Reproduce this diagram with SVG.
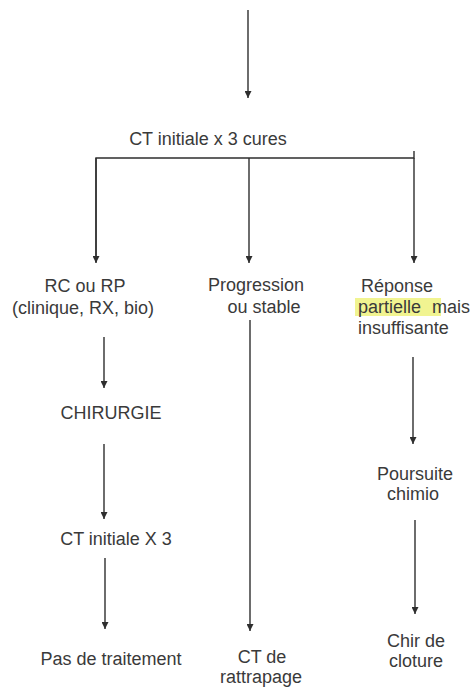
<svg xmlns="http://www.w3.org/2000/svg" width="473" height="688" viewBox="0 0 473 688">
<defs>
<marker id="ah" viewBox="0 0 10 10" refX="10" refY="5" markerWidth="7" markerHeight="7" markerUnits="userSpaceOnUse" orient="auto">
<path d="M0,0 L10,5 L0,10 z" fill="#2e2e2e"/>
</marker>
<style>
.t{font-family:"Liberation Sans",Arial,sans-serif;font-size:18px;fill:#3a3a3a;text-anchor:middle}
.l{text-anchor:start}
.c{stroke:#2e2e2e;stroke-width:1.4;fill:none}
.a{marker-end:url(#ah)}
</style>
</defs>
<rect width="473" height="688" fill="#ffffff"/>
<g id="connectors">
<line class="c a" x1="248" y1="10" x2="248" y2="98"/>
<polyline class="c" points="96,262 96,158 414,158 414,151"/>
<line class="c a" x1="96" y1="158" x2="96" y2="263"/>
<line class="c a" x1="249" y1="158" x2="249" y2="263"/>
<line class="c a" x1="414" y1="158" x2="414" y2="263"/>
<line class="c a" x1="104" y1="337" x2="104" y2="388"/>
<line class="c a" x1="104" y1="444" x2="104" y2="519"/>
<line class="c a" x1="105" y1="558" x2="105" y2="629"/>
<line class="c a" x1="250" y1="320" x2="250" y2="631"/>
<line class="c a" x1="413" y1="357" x2="413" y2="444"/>
<line class="c a" x1="415" y1="520" x2="415" y2="614"/>
</g>
<g id="n-ct-initiale"><text class="t" x="208" y="145">CT initiale x 3 cures</text></g>
<g id="n-rc"><text class="t" x="85" y="292">RC ou RP</text><text class="t" x="83" y="314">(clinique, RX, bio)</text></g>
<g id="n-progression"><text class="t" x="256" y="291">Progression</text><text class="t" x="264" y="313">ou stable</text></g>
<g id="n-reponse">
<rect x="355" y="298" width="86" height="18" fill="#eef27e" opacity="0.85"/>
<text class="t l" x="361" y="292">Réponse</text><text class="t l" x="358" y="313" word-spacing="6">partielle mais</text><text class="t l" x="358" y="334">insuffisante</text></g>
<g id="n-chirurgie"><text class="t" x="111" y="419">CHIRURGIE</text></g>
<g id="n-ct3"><text class="t" x="116" y="545">CT initiale X 3</text></g>
<g id="n-pas"><text class="t" x="111" y="665">Pas de traitement</text></g>
<g id="n-rattrapage"><text class="t" x="262" y="663">CT de</text><text class="t" x="261" y="683">rattrapage</text></g>
<g id="n-poursuite"><text class="t" x="415" y="480">Poursuite</text><text class="t" x="413" y="500">chimio</text></g>
<g id="n-chir-cloture"><text class="t" x="416" y="647">Chir de</text><text class="t" x="416" y="667">cloture</text></g>
</svg>
